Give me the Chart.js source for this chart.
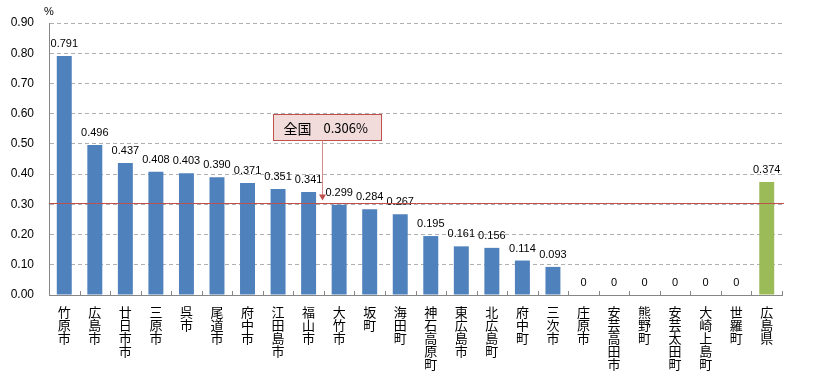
<!DOCTYPE html>
<html>
<head>
<meta charset="utf-8">
<script src="https://cdn.jsdelivr.net/npm/chart.js@4"></script>
<style>
  html, body { margin: 0; padding: 0; background: #fff; }
  #wrap { width: 813px; height: 379px; }
</style>
</head>
<body>
<div id="wrap"><canvas id="myChart" width="813" height="379"></canvas></div>
<script>
// categories (municipalities) and values in %
const categories = ['竹原市', '広島市', '廿日市市', '三原市', '呉市', '尾道市', '府中市', '江田島市', '福山市', '大竹市',
  '坂町', '海田町', '神石高原町', '東広島市', '北広島町', '府中町', '三次市', '庄原市', '安芸高田市', '熊野町',
  '安芸太田町', '大崎上島町', '世羅町', '広島県'];
const values = [0.791, 0.496, 0.437, 0.408, 0.403, 0.390, 0.371, 0.351, 0.341, 0.299,
  0.284, 0.267, 0.195, 0.161, 0.156, 0.114, 0.093, 0, 0, 0,
  0, 0, 0, 0.374];
const yTicks = [0, 0.1, 0.2, 0.3, 0.4, 0.5, 0.6, 0.7, 0.8, 0.9];
const nationalLabel = '全国';
const nationalValue = 0.306;

const blue = '#4f81bd';
const green = '#9bbb59';
const numFont = '"Liberation Sans", Arial, sans-serif';
const jpFont = '"Noto Sans CJK JP", sans-serif';

// draws value labels, inner tick marks, the national average line and its callout
const extras = {
  id: 'extras',
  afterDatasetsDraw(chart) {
    const ctx = chart.ctx;
    const xs = chart.scales.x;
    const ys = chart.scales.y;
    const area = chart.chartArea;
    const meta = chart.getDatasetMeta(0);
    const step = xs.getPixelForValue(1) - xs.getPixelForValue(0);

    ctx.save();
    // inner tick marks on the category axis
    ctx.strokeStyle = '#868686';
    ctx.lineWidth = 1;
    for (let i = 0; i <= categories.length; i++) {
      const px = Math.round(xs.getPixelForValue(i) - step / 2) + 0.5;
      ctx.beginPath();
      ctx.moveTo(px, area.bottom - 4);
      ctx.lineTo(px, area.bottom);
      ctx.stroke();
    }

    // value labels
    ctx.fillStyle = '#000';
    ctx.font = '11px ' + numFont;
    ctx.textAlign = 'center';
    ctx.textBaseline = 'alphabetic';
    meta.data.forEach((bar, i) => {
      const v = values[i];
      const txt = v === 0 ? '0' : v.toFixed(3);
      ctx.fillText(txt, bar.x, bar.y - 9);
    });

    // national average line
    const ly = Math.round(ys.getPixelForValue(nationalValue)) + 0.5;
    ctx.strokeStyle = '#c0504d';
    ctx.beginPath();
    ctx.moveTo(area.left, ly);
    ctx.lineTo(area.right + 2, ly);
    ctx.stroke();

    // callout box + arrow
    const ax = Math.round((xs.getPixelForValue(8) + xs.getPixelForValue(9)) / 2) - 1.5;
    const bTop = Math.round(ys.getPixelForValue(0.60)) + 0.5;
    const bBot = Math.round(ys.getPixelForValue(0.513)) + 0.5;
    const bLeft = ax - 49;
    const bW = 108;
    ctx.fillStyle = '#f2dcdb';
    ctx.fillRect(bLeft, bTop, bW, bBot - bTop);
    ctx.strokeStyle = '#c0504d';
    ctx.strokeRect(bLeft, bTop, bW, bBot - bTop);

    ctx.strokeStyle = '#d98a8a';
    ctx.beginPath();
    ctx.moveTo(ax, bBot);
    ctx.lineTo(ax, ly - 8);
    ctx.stroke();
    ctx.fillStyle = '#c0504d';
    ctx.beginPath();
    ctx.moveTo(ax - 3.5, ly - 9);
    ctx.lineTo(ax + 3.5, ly - 9);
    ctx.lineTo(ax, ly - 3);
    ctx.closePath();
    ctx.fill();

    ctx.fillStyle = '#000';
    ctx.textAlign = 'left';
    ctx.textBaseline = 'middle';
    const my = (bTop + bBot) / 2 + 1;
    ctx.font = '14px ' + jpFont;
    ctx.fillText(nationalLabel, bLeft + 10, my);
    ctx.font = '13px ' + jpFont;
    ctx.fillText(nationalValue.toFixed(3) + '%', bLeft + 50, my);

    // unit label
    ctx.font = '11px ' + numFont;
    ctx.textAlign = 'left';
    ctx.textBaseline = 'alphabetic';
    ctx.fillText('%', 44, 15);
    ctx.restore();
  }
};

const ctx = document.getElementById('myChart').getContext('2d');
const myChart = new Chart(ctx, {
  type: 'bar',
  data: {
    labels: categories.map(c => c.split('')),
    datasets: [{
      data: values,
      backgroundColor: categories.map(c => c === '広島県' ? green : blue),
      barPercentage: 0.49,
      categoryPercentage: 1.0
    }]
  },
  options: {
    responsive: false,
    animation: false,
    layout: { padding: { left: 0, right: 31, top: 23, bottom: 0 } },
    plugins: {
      legend: { display: false },
      tooltip: { enabled: false }
    },
    scales: {
      x: {
        grid: { display: false },
        border: { display: true, color: '#868686', width: 1 },
        ticks: {
          autoSkip: false,
          maxRotation: 0,
          minRotation: 0,
          padding: 3,
          color: '#000',
          font: { family: jpFont, size: 13, lineHeight: 1.0 }
        },
        afterFit(scale) { scale.height = 84; }
      },
      y: {
        min: 0,
        max: 0.9,
        afterBuildTicks(scale) { scale.ticks = yTicks.map(v => ({ value: v })); },
        grid: { color: '#b0b0b0', drawTicks: false, lineWidth: 1 },
        border: { display: true, color: '#868686', width: 1, dash: [4, 3] },
        ticks: {
          padding: 15,
          color: '#000',
          font: { family: numFont, size: 12 },
          callback: v => Number(v).toFixed(2)
        },
        afterFit(scale) { scale.width = 49; }
      }
    }
  },
  plugins: [extras]
});
</script>
</body>
</html>
